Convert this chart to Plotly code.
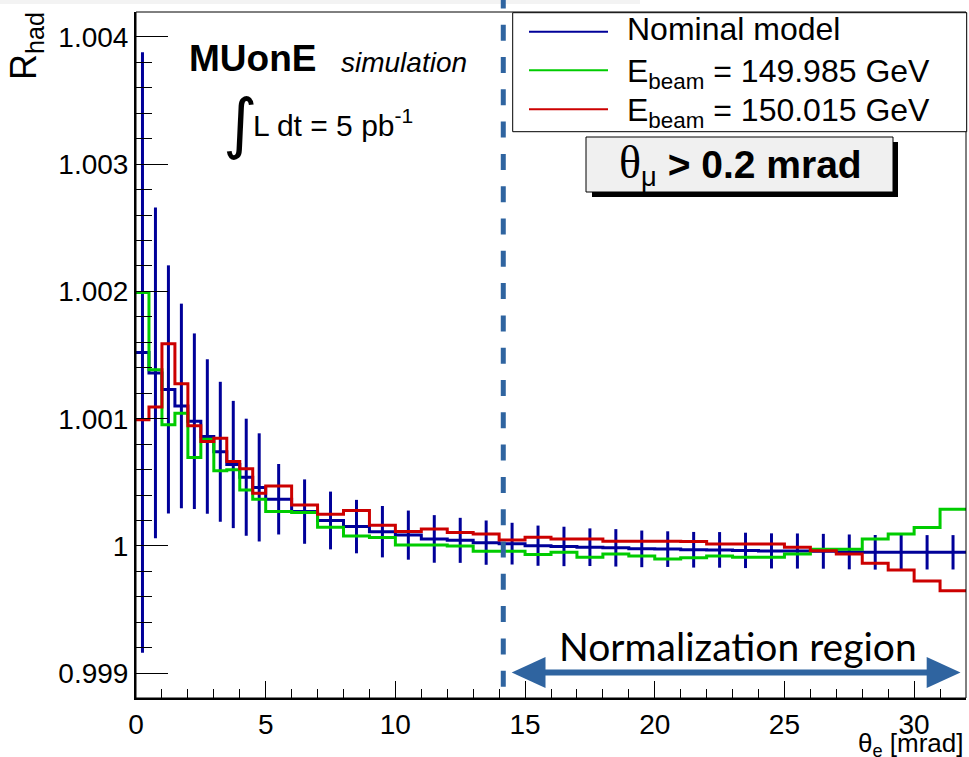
import plotly.graph_objects as go

# ---------------- data ----------------
bin_edges = [0.0, 0.5, 1.0, 1.5, 2.0, 2.5, 3.0, 3.5, 4.0, 4.5, 5.0,
             6, 7, 8, 9, 10, 11, 12, 13, 14, 15, 16, 17, 18, 19, 20,
             21, 22, 23, 24, 25, 26, 27, 28, 29, 30, 31, 32]

nominal = [1.00152, 1.00136, 1.00123, 1.00110, 1.00098, 1.00086, 1.00074, 1.00064,
           1.00054, 1.00046, 1.000367, 1.00027, 1.00020, 1.000152, 1.000112, 1.000085,
           1.000055, 1.000044, 1.000026, 1.000018, 1.000002, 0.999996, 0.99999,
           0.999985, 0.999977, 0.999975, 0.99997, 0.999969, 0.999965, 0.999961,
           0.99996, 0.999958, 0.999953, 0.99995, 0.99995, 0.99995, 0.99995]

nominal_err = [0.00236, 0.00130, 0.000975, 0.000804, 0.00069, 0.000607, 0.00055, 0.0005,
               0.00046, 0.000425, 0.000277, 0.000253, 0.000227, 0.00021, 0.000202,
               0.000193, 0.000187, 0.000177, 0.000174, 0.000164, 0.000158, 0.000155,
               0.000148, 0.000147, 0.000144, 0.00014, 0.00014, 0.00014, 0.000139,
               0.000138, 0.000138, 0.000137, 0.000137, 0.000136, 0.000136, 0.000135,
               0.000135]

ebeam_low = [1.001992, 1.001384, 1.000952, 1.001043, 1.000695, 1.000839, 1.00059, 1.000598,
             1.00044, 1.000367, 1.00027, 1.000262, 1.000147, 1.000079, 1.000066, 1.000008,
             1.000008, 1.0, 0.999958, 0.999958, 0.999932, 0.99995, 0.999911, 0.999937,
             0.999921, 0.999898, 0.999908, 0.999921, 0.999911, 0.999911, 0.999937,
             0.999974, 0.999974, 1.000055, 1.000094, 1.000144, 1.000289]

ebeam_high = [1.000991, 1.001091, 1.001589, 1.001274, 1.000944, 1.000821, 1.000847, 1.000663,
              1.000606, 1.000414, 1.000472, 1.000322, 1.000249, 1.000278, 1.000163, 1.000113,
              1.000134, 1.000105, 1.000094, 1.000047, 1.000068, 1.000055, 1.000055,
              1.000037, 1.000037, 1.000036, 1.000034, 1.000016, 1.000016, 1.000016,
              0.99999, 0.999963, 0.999937, 0.999864, 0.999811, 0.999725, 0.999648]

series_names = ["Nominal model", "E<sub>beam</sub> = 149.985 GeV", "E<sub>beam</sub> = 150.015 GeV"]
y_tickvals = [0.999, 1.000, 1.001, 1.002, 1.003, 1.004]
y_ticktext = ["0.999", "1", "1.001", "1.002", "1.003", "1.004"]
x_range = [0, 32]
y_range = [0.998805, 1.004196]
norm_start = 14.16

# ---------------- style ----------------
BLUE = "#000099"
GREEN = "#00cc00"
RED = "#cc0000"
STEEL = "#2f64a0"
FONT = "Liberation Sans"

W, H = 969, 757
ML, MR, MT, MB = 136, 3, 12, 59
PW, PH = W - ML - MR, H - MT - MB


def px(X):
    return (X - ML) / PW


def py(Y):
    return (H - MB - Y) / PH


centers = [(a + b) / 2 for a, b in zip(bin_edges[:-1], bin_edges[1:])]


def step_y(v):
    return list(v) + [v[-1]]


fig = go.Figure()
fig.add_trace(go.Scatter(x=bin_edges, y=step_y(nominal), mode="lines", line_shape="hv",
                         line=dict(color=BLUE, width=3), name=series_names[0], showlegend=False))
fig.add_trace(go.Scatter(x=centers, y=nominal, mode="markers",
                         marker=dict(size=1, color="rgba(0,0,0,0)"),
                         error_y=dict(type="data", array=nominal_err, visible=True,
                                      color=BLUE, thickness=3, width=0),
                         showlegend=False, hoverinfo="skip"))
fig.add_trace(go.Scatter(x=bin_edges, y=step_y(ebeam_low), mode="lines", line_shape="hv",
                         line=dict(color=GREEN, width=3), name=series_names[1], showlegend=False))
fig.add_trace(go.Scatter(x=bin_edges, y=step_y(ebeam_high), mode="lines", line_shape="hv",
                         line=dict(color=RED, width=3), name=series_names[2], showlegend=False))

shapes = []
annotations = []

# thin grey strip at the top edge of the reference image
shapes.append(dict(type="rect", xref="paper", yref="paper", x0=px(0), x1=px(640),
                   y0=py(4), y1=py(0), fillcolor="#f3f3f3", line=dict(width=0)))

# frame
shapes.append(dict(type="rect", xref="paper", yref="paper", x0=0, x1=1, y0=0, y1=1,
                   line=dict(color="black", width=1), layer="above"))

# normalization start dashed line
shapes.append(dict(type="line", xref="x", yref="paper", x0=norm_start, x1=norm_start,
                   y0=py(-7.6), y1=0, line=dict(color=STEEL, width=5, dash="16px,16.3px"),
                   layer="above"))

# double arrow
ay = 672.6
shapes.append(dict(type="line", xref="paper", yref="paper", x0=px(540), x1=px(932),
                   y0=py(ay), y1=py(ay), line=dict(color=STEEL, width=6)))
for tip, base in [(511.7, 545.5), (960.5, 926.7)]:
    shapes.append(dict(type="path", xref="paper", yref="paper",
                       path=f"M {px(tip)},{py(ay)} L {px(base)},{py(ay-15.5)} L {px(base)},{py(ay+15.5)} Z",
                       fillcolor=STEEL, line=dict(color=STEEL, width=0)))
annotations.append(dict(xref="paper", yref="paper", x=px(737.5), y=py(646), text="Normalization region",
                        showarrow=False, xanchor="center", yanchor="middle",
                        font=dict(family="Lato", size=39, color="black")))

# legend box (manual, ROOT style)
shapes.append(dict(type="rect", xref="paper", yref="paper", x0=px(512.7), x1=px(966.7),
                   y0=py(131.7), y1=py(12.7), fillcolor="white", line=dict(color="black", width=1),
                   layer="above"))
for yy, ty, col, name in [(31.7, 29.5, BLUE, series_names[0]), (70.3, 73.5, GREEN, series_names[1]),
                          (109.3, 112.5, RED, series_names[2])]:
    shapes.append(dict(type="line", xref="paper", yref="paper", x0=px(529), x1=px(608),
                       y0=py(yy), y1=py(yy), line=dict(color=col, width=2), layer="above"))
    annotations.append(dict(xref="paper", yref="paper", x=px(625), y=py(ty),
                            text=name, showarrow=False, xanchor="left", yanchor="middle",
                            font=dict(family=FONT, size=32, color="black")))

# theta_mu box with shadow
shapes.append(dict(type="rect", xref="paper", yref="paper", x0=px(592), x1=px(898),
                   y0=py(197), y1=py(142), fillcolor="black", line=dict(width=0), layer="above"))
shapes.append(dict(type="rect", xref="paper", yref="paper", x0=px(586), x1=px(893),
                   y0=py(192), y1=py(137), fillcolor="#f0f0f0", line=dict(color="black", width=1),
                   layer="above"))
annotations.append(dict(xref="paper", yref="paper", x=px(740), y=py(164),
                        text="<span style='font-family:Liberation Serif;font-size:46px'>θ</span><sub>μ</sub> <b>&gt; 0.2 mrad</b>",
                        showarrow=False, xanchor="center", yanchor="middle",
                        font=dict(family=FONT, size=39, color="black")))

# MUonE labels
annotations.append(dict(xref="paper", yref="paper", x=px(187), y=py(59), text="<b>MUonE</b>",
                        showarrow=False, xanchor="left", yanchor="middle",
                        font=dict(family=FONT, size=37, color="black")))
annotations.append(dict(xref="paper", yref="paper", x=px(339), y=py(63), text="<i>simulation</i>",
                        showarrow=False, xanchor="left", yanchor="middle",
                        font=dict(family=FONT, size=28, color="black")))
annotations.append(dict(xref="paper", yref="paper", x=px(240), y=py(124), text="∫",
                        showarrow=False, xanchor="center", yanchor="middle",
                        font=dict(family="DejaVu Sans", size=66, color="black")))
annotations.append(dict(xref="paper", yref="paper", x=px(251), y=py(123), text="L dt = 5 pb<sup>-1</sup>",
                        showarrow=False, xanchor="left", yanchor="middle",
                        font=dict(family=FONT, size=30, color="black")))

# axis titles (ROOT style: at the end of the axes)
annotations.append(dict(xref="paper", yref="paper", x=px(26), y=py(10), text="R<sub>had</sub>",
                        textangle=-90, showarrow=False, xanchor="center", yanchor="top",
                        font=dict(family=FONT, size=36, color="black")))
annotations.append(dict(xref="paper", yref="paper", x=px(966), y=py(744), text="θ<sub>e</sub> [mrad]",
                        showarrow=False, xanchor="right", yanchor="middle",
                        font=dict(family=FONT, size=26, color="black")))

fig.update_layout(
    width=W, height=H,
    margin=dict(l=ML, r=MR, t=MT, b=MB, autoexpand=False),
    paper_bgcolor="white", plot_bgcolor="white",
    shapes=shapes, annotations=annotations, showlegend=False,
    xaxis=dict(range=x_range, showgrid=False, zeroline=False, showline=True, linecolor="black",
               linewidth=2, ticks="inside", ticklen=17, tickwidth=1, tickcolor="black",
               tick0=0, dtick=5,
               tickfont=dict(family=FONT, size=28, color="black"),
               minor=dict(ticks="inside", ticklen=9, tickwidth=1, tickcolor="black", dtick=1)),
    yaxis=dict(range=y_range, showgrid=False, zeroline=False, showline=True, linecolor="black",
               linewidth=2, ticks="inside", ticklen=32, tickwidth=1, tickcolor="black",
               tickmode="array", tickvals=y_tickvals, ticktext=y_ticktext,
               tickfont=dict(family=FONT, size=28, color="black"),
               minor=dict(ticks="inside", ticklen=16, tickwidth=1, tickcolor="black",
                          tickmode="linear", tick0=0.999, dtick=0.0002)),
)

fig.write_html("out.html")
